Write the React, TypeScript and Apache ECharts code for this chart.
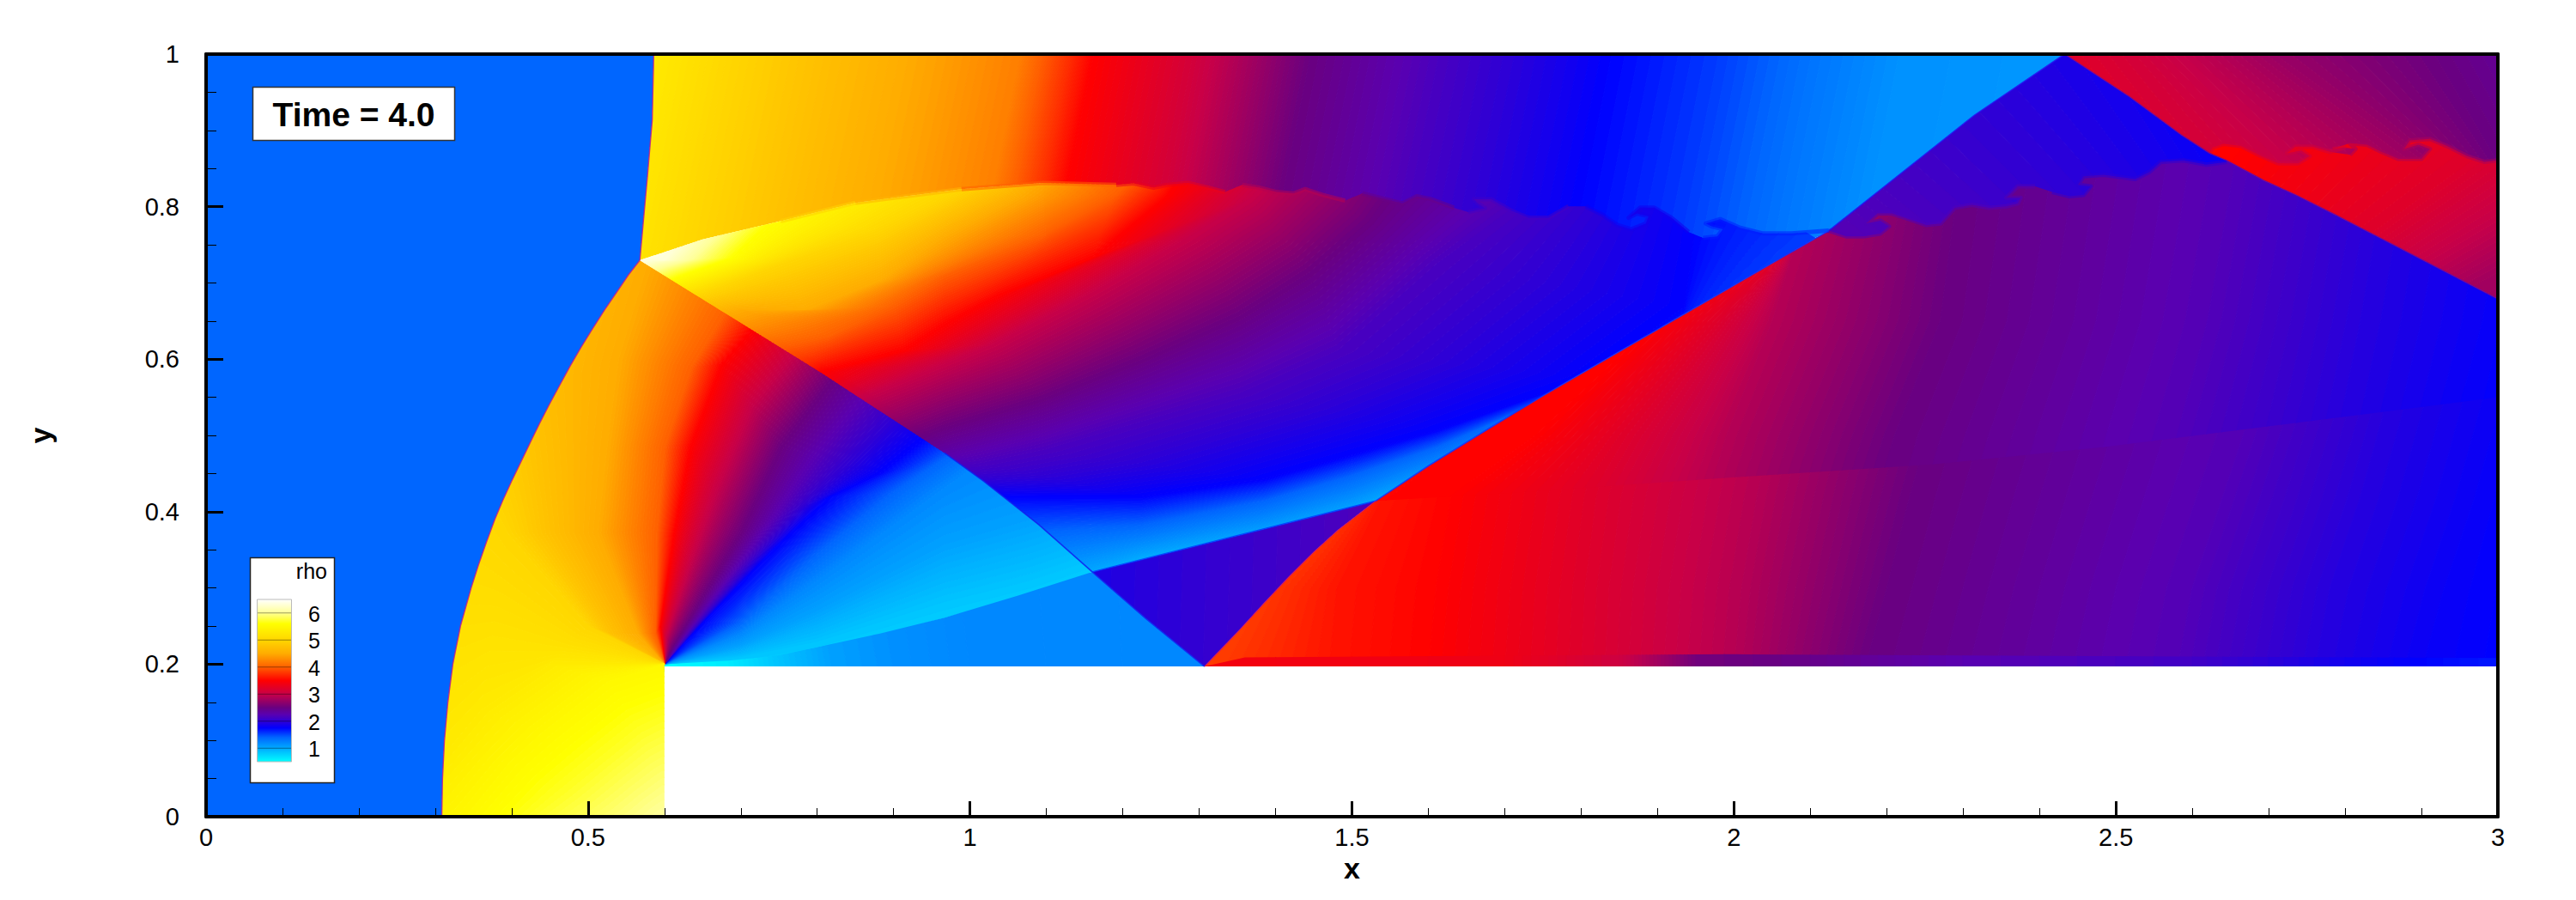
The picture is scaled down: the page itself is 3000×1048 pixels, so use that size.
import React, { useEffect, useRef } from "react";
import * as echarts from "echarts";

type P = [number, number];
type Iso = [number, P[]];

// Colour scale of rho (legend)
const colorScale: [number, [number, number, number]][] = [
  [0.5, [0, 255, 255]], [1, [0, 170, 255]], [1.4, [0, 102, 255]], [1.75, [0, 0, 255]], [2, [48, 0, 212]], [2.25, [90, 0, 176]],
  [2.5, [106, 0, 128]], [3, [200, 0, 72]], [3.5, [255, 0, 0]], [4, [255, 96, 0]],
  [4.5, [255, 172, 0]], [5, [255, 214, 0]], [5.6, [255, 255, 0]], [6, [255, 255, 150]], [6.5, [255, 255, 255]],
];
const legendLevels = [1, 2, 3, 4, 5, 6];
const freeStreamRho = 1.4;

// Flow features (x, y)
const bowUpper: P[] = [[0.586, 1], [0.584, 0.913], [0.5776, 0.838], [0.5725, 0.7816], [0.5678, 0.7296]];
const bowLower: P[] = [[0.5678, 0.7296], [0.5525, 0.71], [0.539, 0.69], [0.522, 0.665], [0.506, 0.64], [0.4905, 0.615], [0.476, 0.59], [0.4625, 0.565], [0.449, 0.54], [0.4362, 0.515], [0.424, 0.49], [0.412, 0.465], [0.4, 0.44], [0.3885, 0.415], [0.378, 0.39], [0.367, 0.36], [0.3565, 0.33], [0.347, 0.3], [0.333, 0.25], [0.323, 0.2], [0.3165, 0.15], [0.312, 0.1], [0.3095, 0.05], [0.3085, 0]];
const machShock: P[] = [[0.5678, 0.7296], [0.804, 0.583], [0.885, 0.53], [0.9666, 0.477], [1.018, 0.44], [1.09, 0.383], [1.16, 0.321], [1.23, 0.26], [1.307, 0.197]];
const machOverlap: P[] = [[0.81, 0.592], [0.97, 0.488], [1.03, 0.44], [1.1, 0.383], [1.16, 0.321]];
const weakWave: P[] = [[0.6, 0.2], [0.687, 0.205], [0.752, 0.212], [0.881, 0.24], [0.9666, 0.261], [1.063, 0.29], [1.16, 0.321]];
const weakOverlap: P[] = [[0.6, 0.2], [0.7, 0.215], [0.8, 0.24], [0.97, 0.29], [1.16, 0.321]];
const contactLine: P[] = [[1.16, 0.321], [1.531, 0.414]];
const wallContact: P[] = [[1.531, 0.414], [1.7, 0.424], [2, 0.445], [2.26, 0.462], [2.487, 0.485], [3, 0.55]];
const contactOverlap: P[] = [[1.6, 0.44], [1.7, 0.44], [2, 0.465], [2.487, 0.505], [3, 0.57]];
const secondLower: P[] = [[1.307, 0.197], [1.33, 0.221], [1.353, 0.245], [1.385, 0.28], [1.418, 0.315], [1.45, 0.347], [1.482, 0.376], [1.531, 0.414]];
const secondMid: P[] = [[1.531, 0.414], [1.6, 0.46], [1.676, 0.507], [1.75, 0.552], [1.85, 0.61], [1.978, 0.684], [2.05, 0.726], [2.1243, 0.7685]];
const secondUpper: P[] = [[2.1243, 0.7685], [2.16, 0.797], [2.315, 0.92], [2.433, 1]];
const thirdShock: P[] = [[2.433, 1], [2.518, 0.944], [2.5851, 0.8944], [2.6226, 0.87], [2.645, 0.8606], [2.6938, 0.8343], [2.735, 0.8155], [2.7874, 0.7892], [3, 0.679]];
const slipA: P[] = [[0.5678, 0.7296], [0.65, 0.757], [0.752, 0.781], [0.85, 0.805], [0.989, 0.823], [1.096, 0.831], [1.1914, 0.8286], [1.2139, 0.8305], [1.2401, 0.8249], [1.2588, 0.8286], [1.2851, 0.8312], [1.3113, 0.8249], [1.3338, 0.8192], [1.3563, 0.8286], [1.3787, 0.8249], [1.4012, 0.8192], [1.4237, 0.8173], [1.4387, 0.823], [1.4612, 0.8155], [1.4911, 0.8079], [1.5136, 0.8173], [1.5361, 0.8117], [1.5661, 0.8042], [1.5848, 0.8136], [1.6035, 0.8098], [1.6335, 0.7985], [1.6523, 0.7929], [1.674, 0.798], [1.664, 0.805], [1.6597, 0.8098], [1.6822, 0.8098], [1.7085, 0.7948], [1.7309, 0.7854], [1.7572, 0.7854], [1.7834, 0.8005], [1.8059, 0.8005], [1.8284, 0.7892], [1.8471, 0.776], [1.8658, 0.7704], [1.8846, 0.7779], [1.8883, 0.7873], [1.8733, 0.7911], [1.8621, 0.7854], [1.8771, 0.7986], [1.8958, 0.7986], [1.9183, 0.7854], [1.9408, 0.7667], [1.9595, 0.7591], [1.9782, 0.761], [1.9857, 0.7704], [1.9707, 0.7742], [1.9632, 0.7779], [1.982, 0.7836], [2.0082, 0.7723], [2.0382, 0.7648], [2.0756, 0.7648], [2.1243, 0.7685]];
const slipAOverlap: P[] = [[1.1, 0.756], [2.1, 0.756]];
const slipB: P[] = [[2.1243, 0.7685], [2.1468, 0.761], [2.1692, 0.761], [2.1917, 0.7647], [2.203, 0.7741], [2.1917, 0.7816], [2.173, 0.7779], [2.188, 0.791], [2.2067, 0.791], [2.2292, 0.7835], [2.2517, 0.776], [2.2704, 0.7779], [2.2891, 0.7985], [2.3116, 0.8023], [2.3341, 0.7985], [2.3566, 0.8004], [2.3716, 0.8042], [2.3753, 0.8117], [2.3566, 0.8117], [2.3716, 0.8267], [2.3941, 0.8267], [2.4165, 0.8192], [2.439, 0.8136], [2.4577, 0.8154], [2.4671, 0.8267], [2.4502, 0.8286], [2.4577, 0.8399], [2.484, 0.8417], [2.5252, 0.8361], [2.5439, 0.8455], [2.5589, 0.8587], [2.5889, 0.8606], [2.6188, 0.855], [2.645, 0.8587]];
const slipBOverlap: P[] = [[2.3, 0.84], [2.5, 0.87], [2.645, 0.8606]];
const slipC: P[] = [[2.6226, 0.87], [2.6263, 0.8775], [2.6413, 0.8824], [2.6638, 0.8794], [2.69, 0.8662], [2.7125, 0.8568], [2.7387, 0.8568], [2.7537, 0.8662], [2.7425, 0.8737], [2.7237, 0.87], [2.735, 0.8786], [2.7574, 0.8786], [2.7799, 0.8719], [2.8062, 0.8681], [2.8137, 0.8756], [2.7987, 0.8775], [2.7837, 0.8756], [2.8062, 0.8831], [2.8286, 0.8813], [2.8474, 0.8719], [2.8699, 0.8625], [2.8998, 0.8625], [2.9111, 0.8756], [2.8961, 0.8813], [2.8773, 0.8756], [2.8848, 0.8869], [2.9111, 0.8888], [2.9335, 0.8794], [2.9598, 0.8662], [2.9823, 0.8587], [3, 0.8606]];
const wallBandEdge: P[] = [[1.307, 0.197], [1.36, 0.209], [2, 0.213], [3, 0.208], [3, 0.197]];

// Mid-layer density along the rolled-up slip lines: [x from, x to, rho]
const slipABlend: [number, number, number][] = [[0.75, 0.86, 4.95], [0.85, 0.99, 4.6], [0.98, 1.2, 4], [1.19, 1.35, 3.3], [1.35, 1.5, 2.9], [1.5, 1.65, 2.45], [1.65, 1.8, 2.1], [1.8, 1.95, 1.85], [1.95, 2.13, 1.65]];
const slipBBlend: [number, number, number][] = [[2.12, 2.4, 2.2], [2.4, 2.65, 2]];
const slipCBlend: [number, number, number][] = [[2.62, 2.8, 3.1], [2.8, 3, 2.85]];

// Iso-rho lines, region by region: [rho, line]
const topIsos: Iso[] = [
  [5.4, [[0.56, 1.05], [0.49, 0.7]]], [5, [[0.7, 1.05], [0.63, 0.7]]], [4.7, [[0.83, 1.05], [0.76, 0.7]]],
  [4.4, [[0.98, 1.05], [0.91, 0.7]]], [4.2, [[1.076, 1.05], [1.006, 0.7]]], [3.75, [[1.14, 1.05], [1.07, 0.7]]],
  [3.5, [[1.172, 1.05], [1.102, 0.7]]], [3.1, [[1.302, 1.05], [1.232, 0.7]]], [2.5, [[1.456, 1.05], [1.386, 0.7]]],
  [2.15, [[1.624, 1.05], [1.554, 0.7]]], [1.75, [[1.85, 1.05], [1.78, 0.7]]], [1.55, [[1.99, 1.05], [1.92, 0.7]]],
  [1.3, [[2.125, 1.05], [2.055, 0.7]]], [1.15, [[2.226, 1.05], [2.156, 0.7]]], [1.1, [[2.5, 1.05], [2.43, 0.7]]],
];
const reflectedIsos: Iso[] = [
  [0.95, [[1.1, 0.25], [1.225, 0.3], [1.386, 0.34], [1.5, 0.38], [1.6, 0.42], [1.75, 0.48], [1.95, 0.5], [2.2, 0.55]]],
  [1, [[1.1, 0.3], [1.225, 0.34], [1.386, 0.37], [1.5, 0.4], [1.6, 0.44], [1.75, 0.5], [1.95, 0.53], [2.2, 0.6]]],
  [1.4, [[1.04, 0.37], [1.225, 0.383], [1.386, 0.414], [1.5, 0.447], [1.612, 0.485], [1.76, 0.55], [1.93, 0.58], [2.2, 0.7]]],
  [1.75, [[0.98, 0.42], [1.225, 0.42], [1.386, 0.443], [1.5, 0.475], [1.612, 0.507], [1.805, 0.575], [1.935, 0.669], [1.96, 0.85]]],
  [2.15, [[0.92, 0.45], [1.02, 0.465], [1.096, 0.481], [1.225, 0.519], [1.353, 0.556], [1.482, 0.612], [1.61, 0.725], [1.78, 0.85]]],
  [2.5, [[0.86, 0.47], [0.9666, 0.511], [1.096, 0.549], [1.225, 0.6], [1.353, 0.657], [1.444, 0.714], [1.522, 0.781], [1.57, 0.85]]],
  [3, [[0.78, 0.52], [0.9666, 0.594], [1.03, 0.62], [1.16, 0.688], [1.29, 0.763], [1.367, 0.812], [1.4, 0.85], [1.42, 0.88]]],
  [3.5, [[0.74, 0.54], [0.8037, 0.583], [0.913, 0.612], [0.9666, 0.646], [1.03, 0.68], [1.16, 0.733], [1.257, 0.812], [1.3, 0.88]]],
  [4, [[0.68, 0.6], [0.816, 0.631], [0.9, 0.67], [0.9666, 0.71], [1.096, 0.763], [1.19, 0.815], [1.23, 0.85], [1.26, 0.88]]],
  [4.5, [[0.6, 0.63], [0.7, 0.665], [0.785, 0.665], [0.881, 0.703], [0.9666, 0.76], [1.063, 0.812], [1.1, 0.84], [1.12, 0.88]]],
  [5, [[0.56, 0.66], [0.655, 0.688], [0.752, 0.725], [0.881, 0.77], [0.98, 0.82], [1.02, 0.84], [1.05, 0.86], [1.07, 0.88]]],
  [5.6, [[0.55, 0.68], [0.622, 0.71], [0.687, 0.733], [0.738, 0.781], [0.75, 0.8], [0.76, 0.82], [0.77, 0.84], [0.78, 0.86]]],
  [6.3, [[0.545, 0.72], [0.585, 0.73], [0.6, 0.73], [0.61, 0.74], [0.615, 0.75], [0.62, 0.76], [0.625, 0.77], [0.63, 0.78]]],
  [6.5, [[0.54, 0.72], [0.56, 0.74], [0.56, 0.75], [0.56, 0.76], [0.56, 0.77], [0.56, 0.78], [0.56, 0.79], [0.56, 0.8]]],
];
const fanIsos: Iso[] = [
  [0.75, [[0.6, 0.19], [0.7, 0.19], [0.8, 0.2], [0.97, 0.24], [1.08, 0.27], [1.2, 0.31]]],
  [0.85, [[0.6, 0.2], [0.7, 0.21], [0.8, 0.23], [0.9666, 0.282], [1.08, 0.31], [1.2, 0.35]]],
  [1.05, [[0.6, 0.2], [0.7, 0.225], [0.8, 0.27], [0.9666, 0.357], [1.08, 0.39], [1.2, 0.43]]],
  [1.2, [[0.6, 0.2], [0.7, 0.24], [0.8, 0.31], [0.9666, 0.432], [1, 0.455], [1.1, 0.52]]],
  [1.4, [[0.6, 0.2], [0.7, 0.255], [0.8, 0.345], [0.9, 0.425], [0.9666, 0.47], [1.05, 0.52]]],
  [1.75, [[0.6, 0.2], [0.65, 0.255], [0.745, 0.353], [0.816, 0.42], [0.881, 0.45], [0.97, 0.52]]],
  [2.5, [[0.6, 0.2], [0.61, 0.222], [0.655, 0.297], [0.7, 0.372], [0.752, 0.485], [0.9, 0.68]]],
  [3.5, [[0.6, 0.2], [0.594, 0.25], [0.6126, 0.372], [0.634, 0.485], [0.675, 0.594], [0.82, 0.76]]],
  [4, [[0.6, 0.2], [0.588, 0.24], [0.59, 0.372], [0.6, 0.485], [0.635, 0.59], [0.74, 0.76]]],
  [4.5, [[0.6, 0.2], [0.565, 0.24], [0.513, 0.372], [0.525, 0.485], [0.54, 0.6], [0.6, 0.8]]],
  [4.75, [[0.6, 0.2], [0.53, 0.24], [0.45, 0.372], [0.435, 0.5], [0.42, 0.56], [0.4, 0.62]]],
  [5, [[0.6, 0.2], [0.5, 0.25], [0.395, 0.372], [0.37, 0.42], [0.34, 0.47], [0.3, 0.55]]],
  [5.3, [[0.6, 0.2], [0.45, 0.2], [0.36, 0.14], [0.31, 0.08], [0.28, 0.05], [0.24, 0.1]]],
  [5.5, [[0.6, 0.2], [0.526, 0.177], [0.44, 0.11], [0.397, 0.071], [0.34, 0], [0.3, -0.05]]],
  [5.7, [[0.61, 0.13], [0.57, 0.11], [0.52, 0.07], [0.47, 0.03], [0.43, 0], [0.4, -0.05]]],
  [6.05, [[0.62, 0.01], [0.61, 0], [0.6, -0.005], [0.595, -0.01], [0.59, -0.01], [0.58, -0.05]]],
];
const wallIsos: Iso[] = [
  [0.5, [[0.6, 0.19], [0.6, 0.3]]], [0.62, [[0.687, 0.19], [0.66, 0.3]]], [0.85, [[0.752, 0.19], [0.73, 0.3]]],
  [1.05, [[0.82, 0.19], [0.8, 0.3]]], [1.15, [[0.9, 0.19], [0.88, 0.3]]], [1.2, [[1, 0.19], [0.98, 0.35]]], [1.2, [[1.4, 0.19], [1.4, 0.4]]],
];
const wedgeIsos: Iso[] = [
  [1.9, [[1.15, 0.15], [1.16, 0.5]]], [2.2, [[1.55, 0.15], [1.56, 0.5]]],
];
const lowerRightIsos: Iso[] = [
  [3.85, [[1.25, 0.19], [1.3, 0.3], [1.4, 0.42], [1.5, 0.6]]],
  [3.8, [[1.33, 0.19], [1.39, 0.3], [1.51, 0.42], [1.6, 0.6]]], [3.6, [[1.47, 0.19], [1.48, 0.3], [1.54, 0.42], [1.62, 0.6]]],
  [3.5, [[1.6, 0.19], [1.61, 0.3], [1.63, 0.42], [1.67, 0.6]]], [3.2, [[1.8, 0.19], [1.805, 0.3], [1.82, 0.42], [1.87, 0.6]]],
  [2.9, [[2, 0.19], [2.01, 0.3], [2.03, 0.42], [2.07, 0.6]]], [2.5, [[2.17, 0.19], [2.2, 0.3], [2.23, 0.42], [2.28, 0.6]]],
  [2.2, [[2.58, 0.19], [2.6, 0.3], [2.64, 0.42], [2.7, 0.6]]], [1.95, [[2.76, 0.19], [2.78, 0.3], [2.82, 0.42], [2.87, 0.6]]],
  [1.8, [[2.9, 0.19], [2.93, 0.3], [2.97, 0.42], [3.02, 0.6]]], [1.7, [[3.1, 0.19], [3.1, 0.3], [3.1, 0.42], [3.1, 0.6]]],
];
const upperRightIsos: Iso[] = [
  [3.55, [[1.3, 0.4], [1.4, 0.5], [1.7, 0.65], [2, 0.88]]],
  [3.5, [[1.6, 0.4], [1.74, 0.5], [1.9, 0.65], [2.2, 0.88]]], [3.2, [[1.8, 0.4], [1.86, 0.5], [1.98, 0.65], [2.2, 0.88]]],
  [2.9, [[1.96, 0.4], [1.99, 0.5], [2.05, 0.65], [2.12, 0.88]]], [2.5, [[2.18, 0.4], [2.21, 0.5], [2.27, 0.65], [2.3, 0.88]]],
  [2.2, [[2.55, 0.4], [2.58, 0.5], [2.62, 0.65], [2.66, 0.88]]], [1.95, [[2.76, 0.4], [2.79, 0.5], [2.82, 0.65], [2.86, 0.88]]],
  [1.8, [[2.9, 0.4], [2.94, 0.5], [2.98, 0.65], [3.02, 0.88]]], [1.7, [[3.1, 0.4], [3.1, 0.5], [3.1, 0.65], [3.1, 0.88]]],
];
const wallBandIsos: Iso[] = [
  [3.4, [[1.3, 0.19], [1.3, 0.23]]], [3.35, [[1.7, 0.19], [1.7, 0.23]]], [3.05, [[1.85, 0.19], [1.85, 0.23]]], [2.55, [[1.95, 0.19], [1.95, 0.23]]],
  [2.45, [[2.1, 0.19], [2.1, 0.23]]], [2.25, [[2.3, 0.19], [2.3, 0.23]]], [2.1, [[2.6, 0.19], [2.6, 0.23]]], [1.85, [[2.8, 0.19], [2.8, 0.23]]],
  [1.7, [[2.95, 0.19], [2.95, 0.23]]], [1.65, [[3.05, 0.19], [3.05, 0.23]]],
];
const apexIsos: Iso[] = [
  [1.75, [[2.55, 1.05], [2.72, 0.8]]], [1.85, [[2.45, 1.05], [2.62, 0.78]]], [1.95, [[2.33, 1], [2.55, 0.75]]],
  [2.15, [[2.1, 0.9], [2.35, 0.7]]], [2.2, [[2, 0.9], [2.25, 0.7]]], [2.25, [[1.8, 0.9], [2.05, 0.7]]],
];
const cornerIsos: Iso[] = [
  [2.35, [[3.03, 1.02], [3.12, 0.84]]], [2.5, [[2.905, 1.02], [3.01, 0.84]]], [2.75, [[2.68, 1.02], [2.93, 0.84]]],
  [3.1, [[2.5, 1.03], [2.66, 0.84]]], [3.25, [[2.4, 1.03], [2.52, 0.84]]],
];
const tailIsos: Iso[] = [
  [2.75, [[3.1, 0.7], [2.95, 0.6]]], [2.8, [[3.05, 0.74], [2.9, 0.66]]], [3, [[3.05, 0.82], [2.85, 0.7]]], [3.2, [[3.02, 0.9], [2.8, 0.74]]],
  [3.35, [[2.85, 0.92], [2.72, 0.78]]], [3.5, [[2.7, 0.92], [2.62, 0.82]]], [3.55, [[2.6, 0.95], [2.5, 0.82]]],
];

const rev = (a: P[]) => a.slice().reverse();
// Painted in this order: each later region lies over the overlap of the one before
const regions: { clip: P[]; isos: Iso[] }[] = [
  { clip: [[0, 0], [0, 1], ...bowUpper, ...bowLower.slice(1)], isos: [[freeStreamRho, [[-1, -1], [-1, 2]]], [freeStreamRho, [[2, -1], [2, 2]]]] },
  { clip: [...weakOverlap, ...machShock.slice(7), [0.6, 0.197]], isos: wallIsos },
  { clip: [...rev(bowLower), ...machOverlap, ...rev(weakWave).slice(1), [0.6, 0]], isos: fanIsos },
  { clip: [...contactLine, ...rev(secondLower).slice(1), ...machShock.slice(7, 8)], isos: wedgeIsos },
  { clip: [...slipA.slice(0, 6), ...slipAOverlap, ...secondUpper, ...bowUpper], isos: topIsos },
  { clip: [...slipA, ...rev(secondMid).slice(1), [1.16, 0.321], ...rev(machShock.slice(1, 6))], isos: reflectedIsos },
  { clip: [...secondLower, ...contactOverlap, [3, 0.197]], isos: lowerRightIsos },
  { clip: [...secondMid, ...slipBOverlap, ...thirdShock.slice(5), ...rev(wallContact)], isos: upperRightIsos },
  { clip: wallBandEdge, isos: wallBandIsos },
  { clip: [...secondUpper, ...thirdShock.slice(1, 5), ...rev(slipB)], isos: apexIsos },
  { clip: [...thirdShock.slice(0, 4), [2.69, 0.845], [3, 0.845], [3, 1]], isos: cornerIsos },
  { clip: [...slipC, ...rev(thirdShock.slice(3))], isos: tailIsos },
];
const blendPieces = (line: P[], table: [number, number, number][]) =>
  table.map(([from, to, rho]) => ({ line: line.filter((p) => p[0] >= from && p[0] <= to), color: rhoColor(rho), width: 5, opacity: 0.55 }));
const shockLines: { line: P[]; color: string; width: number; opacity: number }[] = [
  ...blendPieces(slipA, slipABlend), ...blendPieces(slipB, slipBBlend), ...blendPieces(slipC, slipCBlend),
  { line: bowUpper, color: "#B8188C", width: 1.4, opacity: 0.85 }, { line: bowLower, color: "#B8188C", width: 1.4, opacity: 0.85 },
  { line: machShock.slice(3), color: "#1020F0", width: 1.6, opacity: 0.85 }, { line: contactLine, color: "#0038FF", width: 1.6, opacity: 0.85 },
  { line: secondLower, color: "#C81070", width: 1.2, opacity: 0.85 }, { line: secondMid, color: "#1030FF", width: 1.6, opacity: 0.85 }, { line: secondUpper, color: "#2010F0", width: 1.6, opacity: 0.85 },
  { line: thirdShock, color: "#6A00A0", width: 1.4, opacity: 0.85 },
];

function rhoColor(rho: number): string {
  const s = colorScale;
  let i = 0;
  while (i < s.length - 2 && rho > s[i + 1][0]) i++;
  const t = Math.max(0, Math.min(1, (rho - s[i][0]) / (s[i + 1][0] - s[i][0])));
  const c = s[i][1].map((v, k) => Math.round(v + (s[i + 1][1][k] - v) * t));
  return `rgb(${c[0]},${c[1]},${c[2]})`;
}

const RHO_STEP = 0.025;

function renderRegion(params: any, api: any) {
  const idx = params.dataIndex;
  const toPx = (p: P) => api.coord(p);
  if (idx >= regions.length) {
    const s = shockLines[idx - regions.length];
    return {
      type: "polyline", silent: true,
      shape: { points: s.line.map(toPx) },
      style: { stroke: s.color, fill: "none", lineWidth: s.width, opacity: s.opacity, lineJoin: "round" },
    };
  }
  const region = regions[idx];
  const children: any[] = [];
  for (let k = 0; k + 1 < region.isos.length; k++) {
    const [r0, l0] = region.isos[k];
    const [r1, l1] = region.isos[k + 1];
    const n = Math.max(1, Math.ceil(Math.abs(r1 - r0) / RHO_STEP), idx === 0 ? 1 : 4);
    for (let m = 0; m < n; m++) {
      const a = m / n, b = (m + 1) / n;
      const along = (t: number) => l0.map((p, i) => [p[0] + (l1[i][0] - p[0]) * t, p[1] + (l1[i][1] - p[1]) * t] as P);
      const pts = [...along(a), ...along(b).reverse()].map(toPx);
      const col = rhoColor(r0 + (r1 - r0) * (a + b) / 2);
      children.push({ type: "polygon", silent: true, shape: { points: pts }, style: { fill: col, stroke: col, lineWidth: 1 } });
    }
  }
  return {
    type: "group",
    clipPath: { type: "polygon", shape: { points: region.clip.map(toPx) } },
    children,
  };
}

const FONT = "'Liberation Sans', Arial, sans-serif";

export default function App() {
  const ref = useRef<HTMLDivElement>(null);
  useEffect(() => {
    const chart = echarts.init(ref.current!, undefined, { renderer: "svg" });
    const stripTop = 698, stripH = 189, rhoMax = 6.5, rhoSpan = 6;
    const levelY = (r: number) => stripTop + ((rhoMax - r) / rhoSpan) * stripH;
    const legendStops = colorScale.map(([r]) => ({ offset: (rhoMax - r) / rhoSpan, color: rhoColor(r) })).reverse();
    const axisCommon = { min: 0, axisLine: { onZero: false, lineStyle: { color: "#000", width: 4 } }, splitLine: { show: false }, z: 20 };
    chart.setOption({
      animation: false,
      backgroundColor: "#fff",
      grid: { left: 240, right: 91, top: 63, bottom: 97, containLabel: false },
      xAxis: [
        {
          ...axisCommon, type: "value", max: 3, interval: 0.5, position: "bottom",
          name: "x", nameLocation: "middle", nameGap: 42,
          nameTextStyle: { fontFamily: FONT, fontWeight: "bold", fontSize: 34, color: "#000" },
          axisLabel: { fontFamily: FONT, fontSize: 29, color: "#000", margin: 9 },
          axisTick: { show: true, inside: true, length: 18, lineStyle: { color: "#000", width: 3 } },
          minorTick: { show: true, splitNumber: 5, length: 10, lineStyle: { color: "#000", width: 1 } },
        },
        { ...axisCommon, type: "value", max: 3, interval: 0.5, position: "top", axisLabel: { show: false }, axisTick: { show: false } },
      ],
      yAxis: [
        {
          ...axisCommon, type: "value", max: 1, interval: 0.2, position: "left",
          name: "y", nameLocation: "middle", nameGap: 176, nameRotate: 90,
          nameTextStyle: { fontFamily: FONT, fontWeight: "bold", fontSize: 34, color: "#000" },
          axisLabel: { fontFamily: FONT, fontSize: 29, color: "#000", margin: 31 },
          axisTick: { show: true, inside: true, length: 20, lineStyle: { color: "#000", width: 3 } },
          minorTick: { show: true, splitNumber: 4, length: 12, lineStyle: { color: "#000", width: 1 } },
        },
        { ...axisCommon, type: "value", max: 1, interval: 0.2, position: "right", axisLabel: { show: false }, axisTick: { show: false } },
      ],
      tooltip: { show: false },
      series: [{
        type: "custom", xAxisIndex: 0, yAxisIndex: 0, z: 2, silent: true, clip: false,
        coordinateSystem: "cartesian2d",
        renderItem: renderRegion,
        encode: { x: 0, y: 1 },
        data: [...regions, ...shockLines].map((_, i) => [0, 0, i]),
      }],
      graphic: [
        { type: "rect", z: 100, shape: { x: 294.5, y: 101.5, width: 235, height: 62 }, style: { fill: "#fff", stroke: "#333", lineWidth: 1.5 } },
        { type: "text", z: 101, x: 412, y: 133, style: { text: "Time = 4.0", fontFamily: FONT, fontWeight: "bold", fontSize: 39, fill: "#000", align: "center", verticalAlign: "middle" } },
        { type: "rect", z: 100, shape: { x: 291.5, y: 649.5, width: 98, height: 262 }, style: { fill: "#fff", stroke: "#222", lineWidth: 1.5 } },
        { type: "text", z: 101, x: 381, y: 665, style: { text: "rho", fontFamily: FONT, fontSize: 25, fill: "#000", align: "right", verticalAlign: "middle" } },
        { type: "rect", z: 101, shape: { x: 299.5, y: stripTop, width: 40, height: stripH }, style: { fill: new echarts.graphic.LinearGradient(0, 0, 0, 1, legendStops), stroke: "#bbb", lineWidth: 1 } },
        ...legendLevels.map((r) => ({ type: "line", z: 102, shape: { x1: 300, y1: levelY(r), x2: 339, y2: levelY(r) }, style: { stroke: "rgba(0,0,0,0.4)", lineWidth: 1 } })),
        ...legendLevels.map((r) => ({ type: "text", z: 102, x: 366, y: levelY(r) + 1, style: { text: String(r), fontFamily: FONT, fontSize: 25, fill: "#000", align: "center", verticalAlign: "middle" } })),
      ],
    });
    return () => chart.dispose();
  }, []);
  return <div ref={ref} style={{ position: "absolute", left: 0, top: 0, width: 3000, height: 1048 }} />;
}
